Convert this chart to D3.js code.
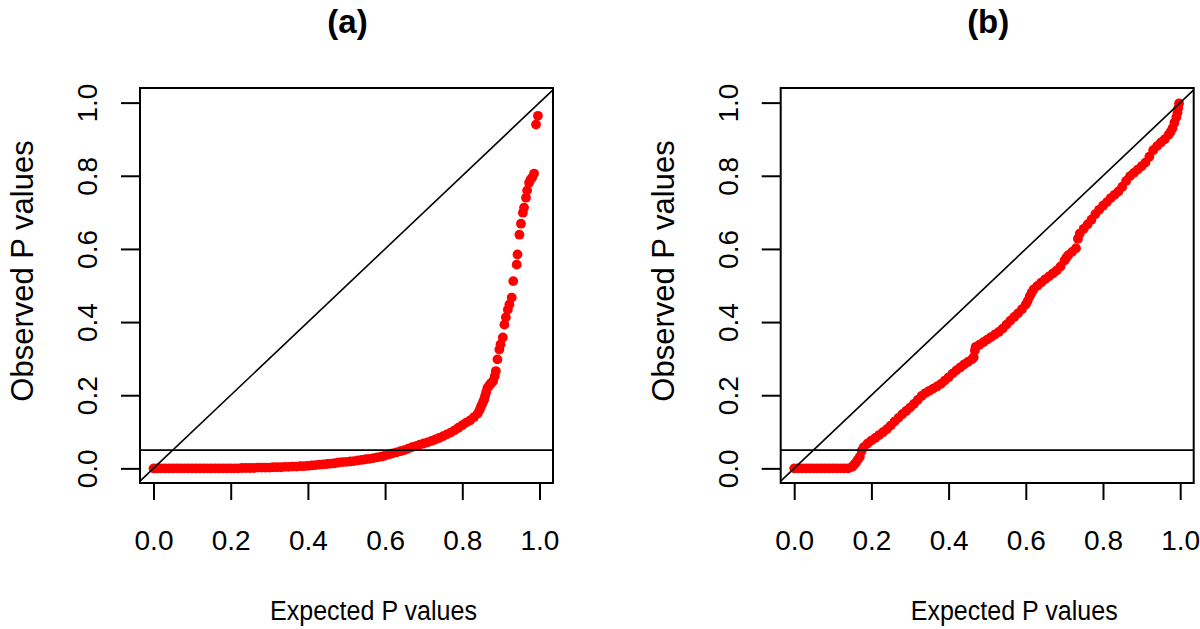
<!DOCTYPE html>
<html>
<head>
<meta charset="utf-8">
<script src="https://cdn.jsdelivr.net/npm/d3@7"></script>
<style>
html,body{margin:0;padding:0;background:#fff;}
svg text{font-family:"Liberation Sans",Arial,Helvetica,sans-serif;fill:#000;}
</style>
</head>
<body>
<svg id="chart" width="1200" height="629"></svg>
<script>
// ---------- data ----------
const panelTitles = ["(a)", "(b)"];
const xTickValues = [0, 0.2, 0.4, 0.6, 0.8, 1.0];
const yTickValues = [0, 0.2, 0.4, 0.6, 0.8, 1.0];
const tickLabels = ["0.0", "0.2", "0.4", "0.6", "0.8", "1.0"];
const xTitle = "Expected P values";
const yTitle = "Observed P values";
const thresholdP = 0.05;

// panel (a): expected vs observed
const expectedA = [
 0.00,0.01,0.02,0.03,0.04,0.05,0.06,0.07,0.08,0.09,
 0.10,0.11,0.12,0.13,0.14,0.15,0.16,0.17,0.18,0.19,
 0.20,0.21,0.22,0.23,0.24,0.25,0.26,0.27,0.28,0.29,
 0.30,0.31,0.32,0.33,0.34,0.35,0.36,0.37,0.38,0.39,
 0.40,0.41,0.42,0.43,0.44,0.45,0.46,0.47,0.48,0.49,
 0.50,0.51,0.52,0.53,0.54,0.55,0.56,0.57,0.58,0.59,
 0.60,0.61,0.62,0.63,0.64,0.65,0.66,0.67,0.68,0.69,
 0.70,0.71,0.72,0.73,0.74,0.75,0.76,0.77,0.78,0.79,
 0.80,0.81,0.82,0.83,0.84,0.845,0.848,0.851,0.854,0.857,
 0.859,0.862,0.865,0.869,0.872,0.876,0.880,0.884,0.887,0.891,
 0.896,0.899,0.905,0.909,0.913,0.918,0.922,0.928,0.932,0.941,
 0.943,0.948,0.952,0.957,0.960,0.965,0.968,0.973,0.977,0.981,
 0.986,0.991,0.996];
const observedA = [
 0.000,0.000,0.000,0.000,0.000,0.000,0.000,0.000,0.000,0.000,
 0.000,0.000,0.000,0.000,0.000,0.000,0.000,0.000,0.000,0.000,
 0.000,0.000,0.000,0.001,0.001,0.001,0.001,0.002,0.002,0.002,
 0.002,0.003,0.003,0.003,0.004,0.004,0.005,0.005,0.006,0.006,
 0.007,0.008,0.009,0.010,0.011,0.012,0.013,0.014,0.016,0.017,
 0.018,0.019,0.020,0.022,0.023,0.025,0.026,0.028,0.030,0.032,
 0.035,0.038,0.041,0.044,0.047,0.050,0.054,0.058,0.061,0.065,
 0.068,0.071,0.075,0.079,0.083,0.088,0.093,0.098,0.104,0.111,
 0.118,0.125,0.131,0.140,0.150,0.160,0.168,0.175,0.182,0.189,
 0.198,0.209,0.220,0.225,0.230,0.234,0.239,0.252,0.266,0.298,
 0.325,0.339,0.358,0.393,0.413,0.434,0.448,0.467,0.512,0.557,
 0.585,0.639,0.669,0.699,0.713,0.740,0.760,0.781,0.790,0.795,
 0.806,0.940,0.964];

// panel (b): expected vs observed
const expectedB = [
 0.00,0.01,0.02,0.03,0.04,0.05,0.06,0.07,0.08,0.09,
 0.10,0.11,0.12,0.13,0.14,0.15,0.155,0.16,0.165,0.17,
 0.175,0.18,0.19,0.20,0.21,0.22,0.23,0.24,0.25,0.26,
 0.27,0.28,0.29,0.30,0.31,0.32,0.33,0.34,0.35,0.36,
 0.37,0.38,0.39,0.40,0.41,0.42,0.43,0.44,0.45,0.46,
 0.465,0.468,0.47,0.48,0.49,0.50,0.51,0.52,0.53,0.54,
 0.55,0.56,0.57,0.58,0.59,0.60,0.605,0.61,0.615,0.62,
 0.63,0.64,0.65,0.66,0.67,0.68,0.69,0.70,0.705,0.71,
 0.72,0.73,0.735,0.74,0.75,0.76,0.77,0.78,0.79,0.80,
 0.81,0.82,0.83,0.84,0.85,0.86,0.87,0.88,0.89,0.90,
 0.91,0.92,0.93,0.94,0.95,0.96,0.97,0.975,0.98,0.985,
 0.99,0.993,0.995,0.997];
const observedB = [
 0.000,0.000,0.000,0.000,0.000,0.000,0.000,0.000,0.000,0.000,
 0.000,0.000,0.000,0.000,0.000,0.004,0.010,0.016,0.024,0.032,
 0.048,0.058,0.068,0.076,0.083,0.091,0.099,0.107,0.117,0.128,
 0.138,0.148,0.157,0.166,0.176,0.187,0.198,0.206,0.212,0.218,
 0.224,0.231,0.240,0.249,0.259,0.268,0.276,0.284,0.291,0.298,
 0.304,0.322,0.332,0.338,0.345,0.352,0.359,0.366,0.373,0.382,
 0.393,0.404,0.414,0.424,0.435,0.448,0.458,0.470,0.480,0.489,
 0.499,0.508,0.517,0.525,0.533,0.541,0.552,0.568,0.576,0.583,
 0.592,0.602,0.628,0.642,0.655,0.667,0.680,0.695,0.707,0.718,
 0.728,0.739,0.748,0.757,0.770,0.786,0.799,0.808,0.817,0.826,
 0.836,0.852,0.870,0.881,0.891,0.900,0.912,0.920,0.930,0.945,
 0.960,0.972,0.985,0.998];

// ---------- drawing ----------
const svg = d3.select("#chart");
const panels = [
  {title: panelTitles[0], ex: expectedA, ob: observedA, left: 140, right: 553},
  {title: panelTitles[1], ex: expectedB, ob: observedB, left: 780.7, right: 1193.7}
];
const plotTop = 88, plotBottom = 483;

panels.forEach(p => {
  const x = d3.scaleLinear().domain([-0.035, 1.035]).range([p.left, p.right]);
  const y = d3.scaleLinear().domain([-0.04, 1.04]).range([plotBottom, plotTop]);
  const g = svg.append("g");

  // points
  const pts = p.ex.map((e, i) => [e, p.ob[i]]);
  g.append("g").selectAll("circle").data(pts).join("circle")
    .attr("cx", d => x(d[0])).attr("cy", d => y(d[1]))
    .attr("r", 4.9).attr("fill", "#ff0000");

  // diagonal y = x
  const d0 = -0.035, d1 = 1.035;
  g.append("line")
    .attr("x1", x(d0)).attr("y1", y(d0)).attr("x2", x(d1)).attr("y2", y(d1))
    .attr("stroke", "#000").attr("stroke-width", 1.6);

  // threshold line
  g.append("line")
    .attr("x1", p.left).attr("x2", p.right)
    .attr("y1", y(thresholdP)).attr("y2", y(thresholdP))
    .attr("stroke", "#000").attr("stroke-width", 1.8);

  // box
  g.append("rect")
    .attr("x", p.left).attr("y", plotTop)
    .attr("width", p.right - p.left).attr("height", plotBottom - plotTop)
    .attr("fill", "none").attr("stroke", "#000").attr("stroke-width", 2);

  // x axis
  const xAxis = d3.axisBottom(x).tickValues(xTickValues).tickSize(17).tickSizeOuter(0)
    .tickFormat((d, i) => tickLabels[i]);
  const xg = g.append("g").attr("transform", `translate(0,${plotBottom})`).call(xAxis);
  xg.select(".domain").remove();
  xg.selectAll(".tick line").attr("stroke", "#000").attr("stroke-width", 2);
  xg.selectAll(".tick text").attr("font-size", 28).attr("dy", null).attr("y", 67)
    .attr("font-family", "'Liberation Sans', Arial, sans-serif").attr("fill", "#000");

  // y axis
  const yAxis = d3.axisLeft(y).tickValues(yTickValues).tickSize(19).tickSizeOuter(0)
    .tickFormat((d, i) => tickLabels[i]);
  const yg = g.append("g").attr("transform", `translate(${p.left},0)`).call(yAxis);
  yg.select(".domain").remove();
  yg.selectAll(".tick line").attr("stroke", "#000").attr("stroke-width", 2);
  yg.selectAll(".tick text")
    .attr("font-size", 28).attr("x", null).attr("dy", null)
    .attr("text-anchor", "middle")
    .attr("transform", `translate(${-43},0) rotate(-90)`)
    .attr("font-family", "'Liberation Sans', Arial, sans-serif").attr("fill", "#000");

  // axis titles
  const cx = (x(0) + x(1)) / 2;
  g.append("text").attr("x", cx + 27).attr("y", 620).attr("text-anchor", "middle")
    .attr("font-size", 27).attr("textLength", 207).attr("lengthAdjust", "spacingAndGlyphs")
    .text(xTitle);
  g.append("text").attr("transform", `translate(${p.left - 107},271) rotate(-90)`)
    .attr("text-anchor", "middle").attr("font-size", 31).text(yTitle);

  // panel title
  g.append("text").attr("x", cx + 1).attr("y", 33).attr("text-anchor", "middle")
    .attr("font-size", 33).attr("font-weight", "bold").text(p.title);
});
</script>
</body>
</html>
